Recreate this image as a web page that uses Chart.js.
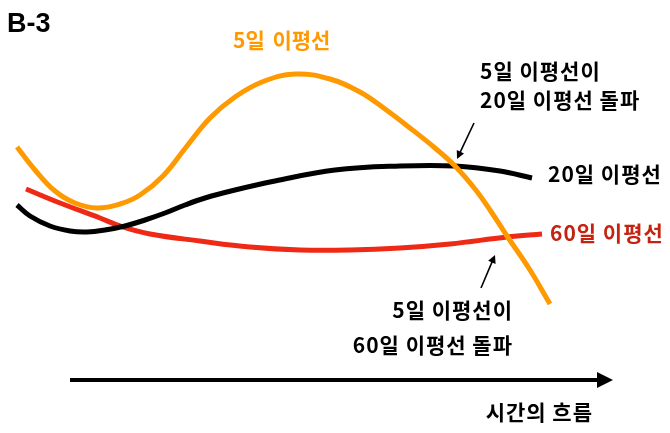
<!DOCTYPE html>
<html>
<head>
<meta charset="utf-8">
<script src="https://cdn.jsdelivr.net/npm/chart.js@4"></script>
<style>
  html, body { margin: 0; padding: 0; background: #fff; }
  #wrap { width: 670px; height: 433px; }
</style>
</head>
<body>
<div id="wrap"><canvas id="maChart" width="670" height="433"></canvas></div>
<script>
// time positions and price levels (higher = higher on the chart)
const ma5Time = [17, 35, 55, 75, 97, 120, 140, 163, 187, 210, 235, 262, 295, 330, 360, 385, 410, 435, 455, 475, 490, 507, 530, 550];
const ma5Price = [286, 263, 242, 230, 225, 229, 238, 257, 287, 315, 336, 351, 359, 354, 341, 324, 305, 285, 267, 244, 223, 197, 163, 129];

const ma20Time = [17, 30, 50, 70, 87, 105, 125, 145, 165, 185, 205, 235, 275, 335, 400, 455, 500, 532];
const ma20Price = [228, 217, 207, 202, 201, 203, 207, 213, 220, 228, 235, 243, 252, 263, 267, 267, 262, 255];

const ma60Time = [26, 60, 100, 120, 150, 200, 250, 300, 350, 400, 450, 507, 542];
const ma60Price = [244, 230, 215, 207, 199, 192, 186, 183, 183, 185, 189, 196, 199];

const FONT = '"Noto Sans CJK KR", "Noto Sans", sans-serif';

function toPoints(xs, ys) {
    return xs.map((x, i) => ({ x: x, y: ys[i] }));
}

function arrow(ctx, x1, y1, x2, y2, width, head) {
    const a = Math.atan2(y2 - y1, x2 - x1);
    ctx.save();
    ctx.strokeStyle = "#000";
    ctx.fillStyle = "#000";
    ctx.lineWidth = width;
    ctx.beginPath();
    ctx.moveTo(x1, y1);
    ctx.lineTo(x2 - Math.cos(a) * head * 0.8, y2 - Math.sin(a) * head * 0.8);
    ctx.stroke();
    ctx.beginPath();
    ctx.moveTo(x2, y2);
    ctx.lineTo(x2 - head * Math.cos(a) + head * 0.5 * Math.sin(a), y2 - head * Math.sin(a) - head * 0.5 * Math.cos(a));
    ctx.lineTo(x2 - head * Math.cos(a) - head * 0.5 * Math.sin(a), y2 - head * Math.sin(a) + head * 0.5 * Math.cos(a));
    ctx.closePath();
    ctx.fill();
    ctx.restore();
}

const labelsPlugin = {
    id: "labels",
    afterDraw(chart) {
        const ctx = chart.ctx;
        ctx.save();
        ctx.textBaseline = "middle";

        ctx.fillStyle = "#000";
        ctx.font = 'bold 27px "Liberation Sans", Arial, sans-serif';
        ctx.textAlign = "left";
        ctx.fillText("B-3", 7, 25);

        ctx.font = "bold 21px " + FONT;
        ctx.wordSpacing = "3px";
        ctx.fillStyle = "#ff9900";
        ctx.fillText("5일 이평선", 233, 40);

        ctx.wordSpacing = "0px";
        ctx.letterSpacing = "1px";
        ctx.fillStyle = "#000";
        ctx.fillText("5일 이평선이", 480, 71);
        ctx.fillText("20일 이평선 돌파", 480, 100);
        ctx.fillText("20일 이평선", 548, 174);

        ctx.fillStyle = "#c42312";
        ctx.fillText("60일 이평선", 550, 233);

        ctx.fillStyle = "#000";
        ctx.textAlign = "right";
        ctx.fillText("5일 이평선이", 513, 310);
        ctx.fillText("60일 이평선 돌파", 513, 345);
        ctx.fillText("시간의 흐름", 593, 412);
        ctx.restore();

        // pointers to the crossings
        arrow(ctx, 474, 123, 457, 159, 1.6, 8);
        arrow(ctx, 481, 288, 495, 255, 1.6, 8);

        // time axis
        arrow(ctx, 70, 380, 613, 380, 4, 16);
    }
};

const ctx = document.getElementById("maChart").getContext("2d");
const chart = new Chart(ctx, {
    type: "scatter",
    data: {
        datasets: [{
            label: "5일 이평선",
            data: toPoints(ma5Time, ma5Price),
            borderColor: "#ff9900",
            borderWidth: 5
        }, {
            label: "20일 이평선",
            data: toPoints(ma20Time, ma20Price),
            borderColor: "#000000",
            borderWidth: 5
        }, {
            label: "60일 이평선",
            data: toPoints(ma60Time, ma60Price),
            borderColor: "#ee2a16",
            borderWidth: 5
        }]
    },
    options: {
        responsive: false,
        animation: false,
        layout: { padding: 0 },
        scales: {
            x: { type: "linear", min: 0, max: 670, display: false },
            y: { type: "linear", min: 0, max: 433, display: false }
        },
        plugins: {
            legend: { display: false },
            tooltip: { enabled: false }
        },
        datasets: {
            scatter: {
                showLine: true,
                pointRadius: 0,
                tension: 0.4,
                borderCapStyle: "butt"
            }
        }
    },
    plugins: [labelsPlugin]
});
</script>
</body>
</html>
